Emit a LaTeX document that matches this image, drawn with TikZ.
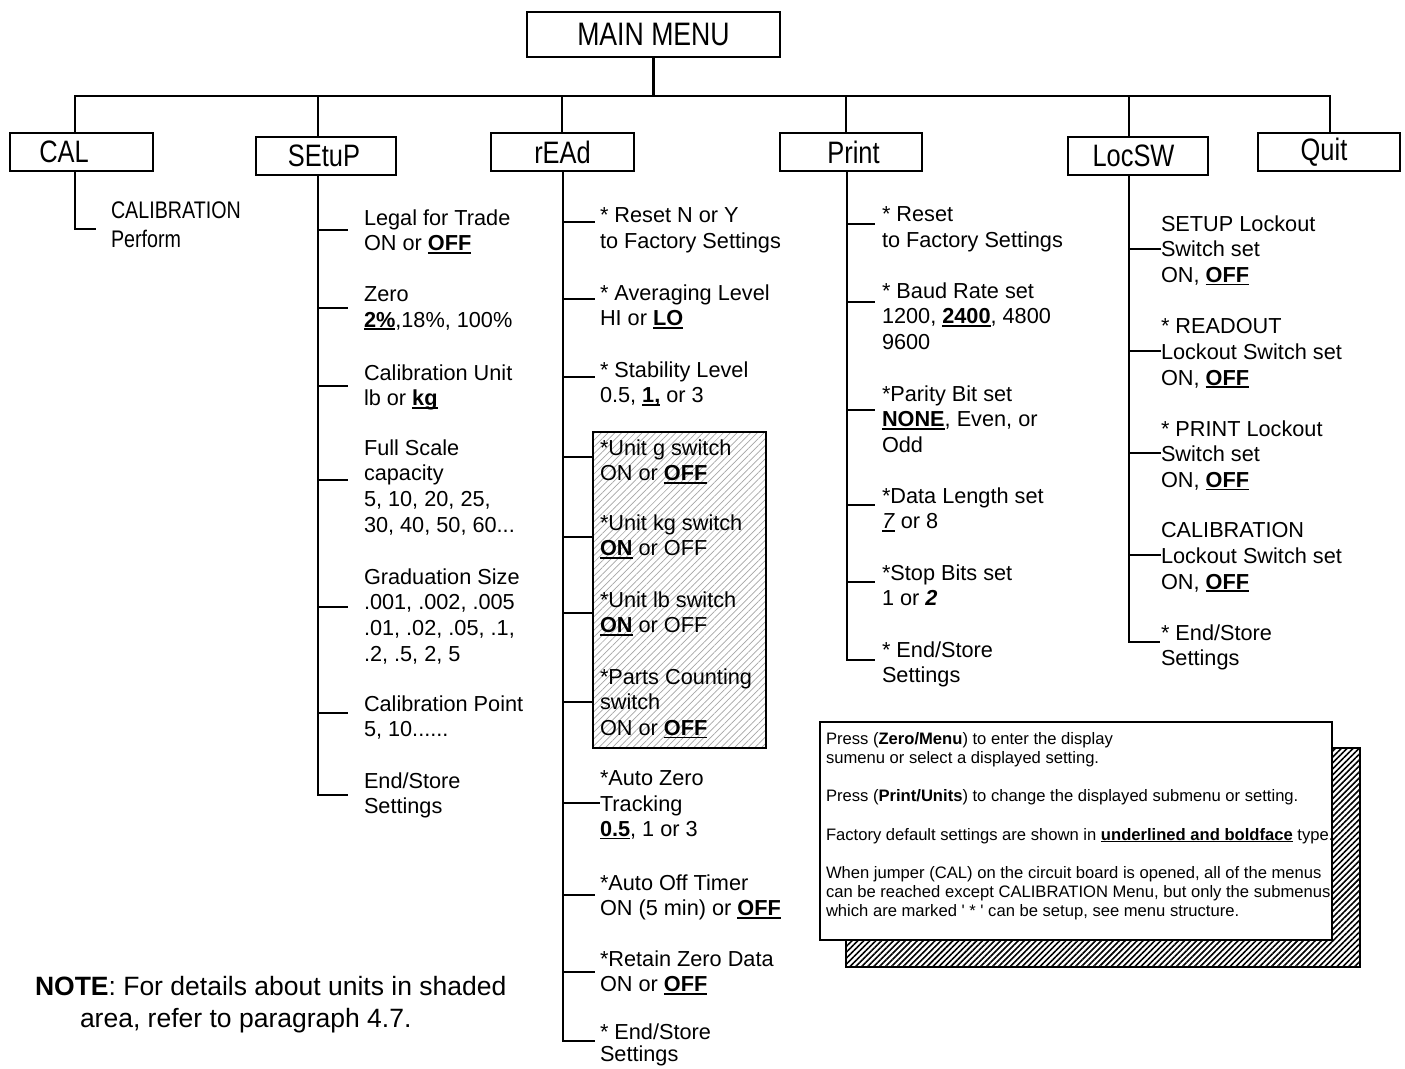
\documentclass[tikz,border=0pt]{standalone}
\usepackage{fontspec}
\setmainfont{Liberation Sans}
\newfontfamily\narrowfont{Liberation Sans}[FakeStretch=0.82]
\usetikzlibrary{patterns.meta}
\newsavebox\ubbox
\newcommand{\ubf}[1]{\sbox\ubbox{\textbf{#1}}\rlap{\rule[-0.12em]{\wd\ubbox}{0.065em}}\usebox\ubbox}
\newcommand{\ubi}[1]{\sbox\ubbox{\textit{#1}}\rlap{\rule[-0.12em]{\wd\ubbox}{0.065em}}\usebox\ubbox}
\tikzset{
  tree/.style={line width=2.6pt},
  menubox/.style={draw, line width=2pt, inner sep=0pt, outer sep=0pt, minimum height=38pt,
    font=\narrowfont\fontsize{31pt}{36pt}\selectfont},
  item/.style={anchor=north west, inner sep=0pt, outer sep=0pt, align=left, yshift=-2.7pt,
    font=\fontsize{21.7pt}{25.7pt}\selectfont, execute at begin node={\strut}},
  calitem/.style={item, font=\narrowfont\fontsize{24pt}{29pt}\selectfont},
  notetext/.style={item, font=\fontsize{16.6pt}{19.2pt}\selectfont},
  bignote/.style={item, font=\fontsize{26.5pt}{32pt}\selectfont},
  shadedarea/.style={draw, line width=2pt, anchor=north west, inner sep=0pt, outer sep=0pt,
    pattern={Lines[angle=45,distance=4.8pt,line width=0.7pt]}, pattern color=black!35},
  shadowbox/.style={draw, line width=2pt, anchor=north west, inner sep=0pt, outer sep=0pt,
    pattern={Lines[angle=45,distance=4.2pt,line width=1.6pt]}},
  notebox/.style={draw, line width=2pt, anchor=north west, inner sep=0pt, outer sep=0pt, fill=white},
}
\begin{document}
\begin{tikzpicture}[x=1pt,y=-1pt]
\fill[white] (0,0) rectangle (1405,1068);
\useasboundingbox (0,0) rectangle (1405,1068);

% ---------- menu boxes ----------
\node[menubox, minimum width=253pt, minimum height=45pt,
  font=\narrowfont\fontsize{32.5pt}{38pt}\selectfont] (main) at (653.5,34.5) {MAIN MENU};
\node[menubox, minimum width=143pt] (cal) at (81.5,152) {CAL\hspace*{35pt}};
\node[menubox, minimum width=140pt] (setup) at (325.5,156) {SEtuP\hspace*{3pt}};
\node[menubox, minimum width=143pt] (read) at (562.5,152) {rEAd};
\node[menubox, minimum width=142pt] (print) at (851,152) {\hspace*{5pt}Print};
\node[menubox, minimum width=140pt] (locsw) at (1138,156) {LocSW\hspace*{9pt}};
\node[menubox, minimum width=142pt] (quit) at (1329,152) {Quit\hspace*{10pt}};

% ---------- shaded area and note box ----------
\node[shadedarea, minimum width=173pt, minimum height=316pt] (shade) at (593,432) {};
\node[shadowbox, minimum width=514pt, minimum height=219pt] (shadow) at (846,748) {};
\node[notebox, minimum width=512pt, minimum height=218pt] (notebox) at (820,722) {};

% ---------- CAL ----------
\node[calitem] (c1) at (111,199.3) {CALIBRATION\\Perform};

% ---------- SEtuP ----------
\node[item] (s1) at (364,206.8) {Legal for Trade\\ON or \ubf{OFF}};
\node[item] (s2) at (364,283.8) {Zero\\\ubf{2\%},18\%, 100\%};
\node[item] (s3) at (364,361.8) {Calibration Unit\\lb or \ubf{kg}};
\node[item] (s4) at (364,436.8) {Full Scale\\capacity\\5, 10, 20, 25,\\30, 40, 50, 60...};
\node[item] (s5) at (364,565.8) {Graduation Size\\.001, .002, .005\\.01, .02, .05, .1,\\.2, .5, 2, 5};
\node[item] (s6) at (364,692.8) {Calibration Point\\5, 10......};
\node[item] (s7) at (364,769.8) {End/Store\\Settings};

% ---------- rEAd ----------
\node[item] (r1) at (600,204.8) {* Reset N or Y\\to Factory Settings};
\node[item] (r2) at (600,281.8) {* Averaging Level\\HI or \ubf{LO}};
\node[item] (r3) at (600,358.8) {* Stability Level\\0.5, \ubf{1,} or 3};
\node[item] (r4) at (600,436.8) {*Unit g switch\\ON or \ubf{OFF}};
\node[item] (r5) at (600,511.8) {*Unit kg switch\\\ubf{ON} or OFF};
\node[item] (r6) at (600,588.8) {*Unit lb switch\\\ubf{ON} or OFF};
\node[item] (r7) at (600,665.8) {*Parts Counting\\switch\\ON or \ubf{OFF}};
\node[item] (r8) at (600,767.8) {*Auto Zero\\Tracking\\\ubf{0.5}, 1 or 3};
\node[item] (r9) at (600,871.8) {*Auto Off Timer\\ON (5 min) or \ubf{OFF}};
\node[item] (r10) at (600,947.8) {*Retain Zero Data\\ON or \ubf{OFF}};
\node[item] (r11) at (600,1021.3) {* End/Store\\[-3.5pt]Settings};

% ---------- Print ----------
\node[item] (p1) at (882,203.8) {* Reset\\to Factory Settings};
\node[item] (p2) at (882,279.8) {* Baud Rate set\\1200, \ubf{2400}, 4800\\9600};
\node[item] (p3) at (882,382.8) {*Parity Bit set\\\ubf{NONE}, Even, or\\Odd};
\node[item] (p4) at (882,484.8) {*Data Length set\\\ubi{7} or 8};
\node[item] (p5) at (882,561.8) {*Stop Bits set\\1 or \textbf{\textit{2}}};
\node[item] (p6) at (882,638.8) {* End/Store\\Settings};

% ---------- LocSW ----------
\node[item] (l1) at (1161,212.8) {SETUP Lockout\\Switch set\\ON, \ubf{OFF}};
\node[item] (l2) at (1161,315.8) {* READOUT\\Lockout Switch set\\ON, \ubf{OFF}};
\node[item] (l3) at (1161,417.8) {* PRINT Lockout\\Switch set\\ON, \ubf{OFF}};
\node[item] (l4) at (1161,519.8) {CALIBRATION\\Lockout Switch set\\ON, \ubf{OFF}};
\node[item] (l5) at (1161,621.8) {* End/Store\\Settings};

% ---------- notes ----------
\node[notetext] (ntext) at (826,729.3) {Press (\textbf{Zero/Menu}) to enter the display\\
sumenu or select a displayed setting.\\[19.2pt]
Press (\textbf{Print/Units}) to change the displayed submenu or setting.\\[19.2pt]
Factory default settings are shown in \ubf{underlined and boldface} type.\\[19.2pt]
When jumper (CAL) on the circuit board is opened, all of the menus\\
can be reached except CALIBRATION Menu, but only the submenus\\
which are marked \textquotesingle\ * \textquotesingle\ can be setup, see menu structure.};
\node[bignote] (bnote) at (35,974) {\textbf{NOTE}: For details about units in shaded\\\hspace*{45pt}area, refer to paragraph 4.7.};

% ---------- top tree ----------
\coordinate (barL) at (75,96);
\coordinate (barR) at (1330,96);
\coordinate (dS) at (318,96);
\coordinate (dR) at (562,96);
\coordinate (dP) at (846,96);
\coordinate (dL) at (1129,96);
\draw[tree] (barL |- cal.north) -- (barL) -- (barR) -- (barR |- quit.north);
\draw[tree] (main.south) -- (main.south |- barL);
\draw[tree] (dS) -- (dS |- setup.north);
\draw[tree] (dR) -- (dR |- read.north);
\draw[tree] (dP) -- (dP |- print.north);
\draw[tree] (dL) -- (dL |- locsw.north);

% ---------- CAL branch ----------
\coordinate (cE) at (75,229);
\draw[tree, shorten >=15pt] (cE |- cal.south) -- (cE) -- (cE -| c1.west);

% ---------- SEtuP branches ----------
\coordinate (sE) at (318,795);
\draw[tree, shorten >=16pt] (sE |- setup.south) -- (sE) -- (sE -| s7.west);
\foreach \i/\y in {1/230,2/308,3/386,4/480,5/607,6/713}{
  \coordinate (sj\i) at (318,\y);
  \draw[tree, shorten >=16pt] (sj\i) -- (sj\i -| s\i.west);
}

% ---------- rEAd branches ----------
\coordinate (rE) at (563,1041);
\draw[tree, shorten >=5pt] (rE |- read.south) -- (rE) -- (rE -| r11.west);
\foreach \i/\y in {1/222,2/299,3/377,9/895,10/972}{
  \coordinate (rj\i) at (563,\y);
  \draw[tree, shorten >=5pt] (rj\i) -- (rj\i -| r\i.west);
}
\foreach \i/\y in {4/457,5/537,6/613,7/702}{
  \coordinate (rj\i) at (563,\y);
  \draw[tree] (rj\i) -- (rj\i -| shade.west);
}
\coordinate (rj8) at (563,803);
\draw[tree] (rj8) -- (rj8 -| r8.west);

% ---------- Print branches ----------
\coordinate (pE) at (847,660);
\draw[tree, shorten >=7pt] (pE |- print.south) -- (pE) -- (pE -| p6.west);
\foreach \i/\y in {1/224,2/302,3/410,4/505,5/582}{
  \coordinate (pj\i) at (847,\y);
  \draw[tree, shorten >=7pt] (pj\i) -- (pj\i -| p\i.west);
}

% ---------- LocSW branches ----------
\coordinate (lE) at (1129,642);
\draw[tree, shorten >=1pt] (lE |- locsw.south) -- (lE) -- (lE -| l5.west);
\foreach \i/\y in {1/249,2/351,3/453,4/555}{
  \coordinate (lj\i) at (1129,\y);
  \draw[tree] (lj\i) -- (lj\i -| l\i.west);
}
\end{tikzpicture}
\end{document}
